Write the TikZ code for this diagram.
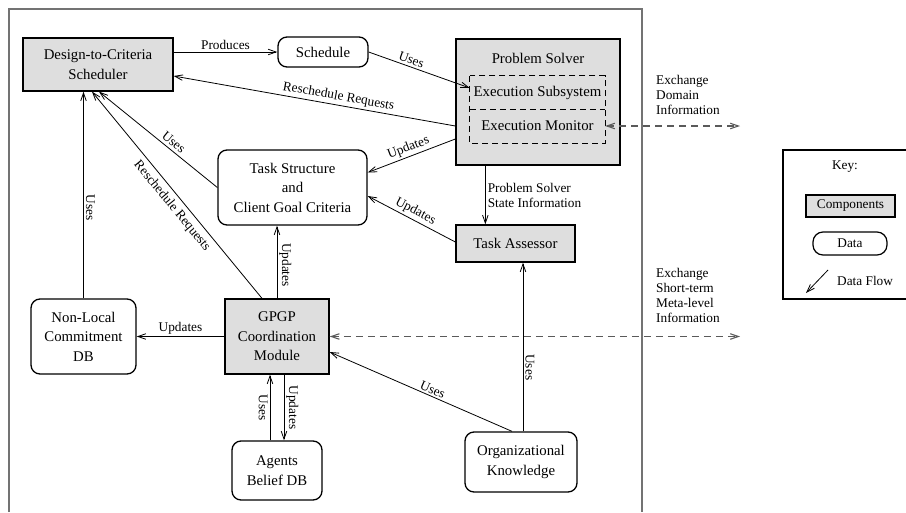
\documentclass[tikz,border=0pt]{standalone}
\usepackage{fontspec}
\setmainfont{Liberation Serif}
\usetikzlibrary{arrows.meta,calc}
\definecolor{boxgray}{RGB}{222,222,222}
\definecolor{framegray}{RGB}{115,115,115}
\definecolor{dashgray}{RGB}{90,90,90}
\begin{document}
\begin{tikzpicture}[x=1pt,y=-1pt,
  boxfont/.style={font=\fontsize{14.8}{19.5}\selectfont},
  lblfont/.style={font=\fontsize{13.3}{15}\selectfont},
  comp/.style={draw, line width=1.3pt, fill=boxgray, align=center, boxfont, inner sep=0pt},
  datab/.style={draw, line width=1.3pt, rounded corners=9pt, fill=white, align=center, boxfont, inner sep=0pt},
  flow/.style={-{Straight Barb[length=8pt,width=5.5pt]}, line width=0.8pt},
  lbl/.style={lblfont, inner sep=2pt},
  xchg/.style={{Straight Barb[length=8pt,width=5.5pt]}-{Straight Barb[length=8pt,width=5.5pt]}, dash pattern=on 7pt off 5pt, draw=dashgray, line width=1.1pt},
  inbox/.style={dash pattern=on 6pt off 4pt, line width=0.8pt}]
\useasboundingbox (0,0) rectangle (906,512);
\draw[framegray, line width=1.5pt] (9,512) -- (9,9) -- (642,9) -- (642,512);

% nodes
\node[comp, minimum width=150pt, minimum height=53pt] (dtc) at (98,64.5) {Design-to-Criteria\\Scheduler};
\node[datab, minimum width=90pt, minimum height=30pt] (sch) at (323,52) {Schedule};
\node[comp, minimum width=164pt, minimum height=126pt] (ps) at (538,102) {};
\node[boxfont] (pst) at (538,58) {Problem Solver};
\node[boxfont, minimum width=135pt, minimum height=33pt, inner sep=0pt] (exs) at (537.5,92.5) {Execution Subsystem};
\node[boxfont, minimum width=135pt, minimum height=34pt, inner sep=0pt] (exm) at (537.5,126) {Execution Monitor};
\draw[inbox] (exs.north west) rectangle (exm.south east);
\draw[inbox] (exs.south west) -- (exs.south east);
\node[datab, minimum width=149pt, minimum height=75pt] (ts) at (292.5,187.5) {Task Structure\\and\\Client Goal Criteria};
\node[comp, minimum width=119pt, minimum height=37pt] (ta) at (515.5,243.5) {Task Assessor};
\node[datab, minimum width=105pt, minimum height=75pt] (nlc) at (83.5,336.5) {Non-Local\\Commitment\\DB};
\node[comp, minimum width=104pt, minimum height=75pt] (gpgp) at (277,336.5) {GPGP\\Coordination\\Module};
\node[datab, minimum width=90pt, minimum height=59pt] (agents) at (277,470.5) {Agents\\Belief DB};
\node[datab, minimum width=112pt, minimum height=60pt] (org) at (521,462) {Organizational\\Knowledge};

% connectors
\draw[flow] (dtc.east |- sch.west) -- node[lbl, above] {Produces} (sch.west);
\draw[flow] (sch.east) -- node[lbl, above, sloped, pos=0.4] {Uses} ([yshift=4.5pt]exs.west);
\draw[flow] ([yshift=-24pt]ps.west) -- node[lbl, above, sloped, pos=0.42] {Reschedule Requests} ([yshift=-11.5pt]dtc.east);
\draw[flow] ([yshift=-37pt]ps.west) -- node[lbl, above, sloped] {Updates} ([yshift=15pt]ts.east);
\draw[flow] ($(ps.south west)+(30,0)$) -- node[lbl, right, align=left] {Problem Solver\\State Information} ($(ta.north west)+(30,0)$);
\draw[flow] ([yshift=1.5pt]ta.west) -- node[lbl, above, sloped] {Updates} ([yshift=-8.5pt]ts.east);
\draw[flow] (ts.west) -- node[lbl, above, sloped, pos=0.41, inner sep=3pt] {Uses} ([xshift=1pt]dtc.south);
\draw[flow] ([xshift=-15pt]gpgp.north) -- node[lbl, below, sloped, pos=0.48, inner sep=4.5pt] {Reschedule Requests} ([xshift=-6pt]dtc.south);
\draw[flow] (nlc.north) -- node[lbl, rotate=-90, anchor=south, pos=0.44] {Uses} (nlc.north |- dtc.south);
\draw[flow] (gpgp.north) -- node[lbl, rotate=-90, anchor=south, pos=0.46] {Updates} (gpgp.north |- ts.south);
\draw[flow] (gpgp.west) -- node[lbl, above] {Updates} (nlc.east);
\draw[flow] ([xshift=-7pt]agents.north) -- node[lbl, rotate=-90, anchor=north] {Uses} ([xshift=-7pt]gpgp.south);
\draw[flow] ([xshift=7pt]gpgp.south) -- node[lbl, rotate=-90, anchor=south] {Updates} ([xshift=7pt]agents.north);
\draw[flow] ([xshift=-9pt]org.north) -- node[lbl, above, sloped, pos=0.45] {Uses} ([yshift=-15.5pt]gpgp.east);
\draw[flow] ([xshift=2pt]org.north) -- node[lbl, rotate=-90, anchor=south, pos=0.38] {Uses} ([xshift=2pt]org.north |- ta.south);

% exchanges
\coordinate (x1) at (740,126);
\coordinate (x2) at (740,336.5);
\draw[xchg] (exm.east) -- (x1);
\draw[xchg] (gpgp.east) -- (x2);
\node[lblfont, anchor=west, align=left, inner sep=0pt] (ex1) at (656,95) {Exchange\\Domain\\Information};
\node[lblfont, anchor=west, align=left, inner sep=0pt] (ex2) at (656,295.5) {Exchange\\Short-term\\Meta-level\\Information};

% key
\draw[line width=1.2pt] (906,150) -- (783,150) -- (783,299) -- (906,299);
\node[lbl] (keyt) at (845,167) {Key:};
\node[comp, lblfont, line width=1.2pt, minimum width=89pt, minimum height=22pt] (kc) at (850.5,206) {Components};
\node[datab, lblfont, line width=1.2pt, rounded corners=10pt, minimum width=74pt, minimum height=23pt] (kd) at (850,243.5) {Data};
\coordinate (kf1) at (828,270);
\coordinate (kf2) at (806,293);
\draw[flow] (kf1) -- (kf2);
\node[lbl, anchor=west] (kft) at (835,281) {Data Flow};
\end{tikzpicture}
\end{document}
